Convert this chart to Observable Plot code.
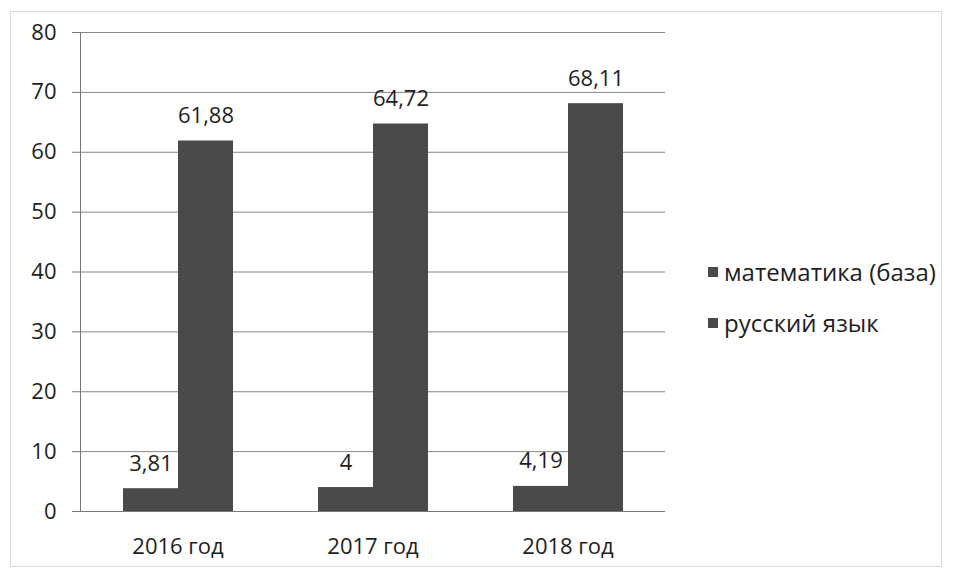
<!DOCTYPE html>
<html><head><meta charset="utf-8">
<script src="https://cdn.jsdelivr.net/npm/d3@7"></script>
<script src="https://cdn.jsdelivr.net/npm/@observablehq/plot@0.6"></script>
<style>
body{margin:0;background:#fff;}
#wrap{position:relative;width:953px;height:577px;font-family:"Open Sans",sans-serif;}
#chart{position:absolute;left:0;top:0;}
#border{position:absolute;left:10px;top:11px;width:930px;height:554px;border:1px solid #dcdcdc;}
#legend{position:absolute;left:708px;top:246px;font-size:24px;color:#1e1e1e;}
.item{display:flex;align-items:center;height:51px}
.sw{width:10px;height:10px;margin-right:6px}
</style></head>
<body><div id="wrap"><div id="border"></div><div id="chart"></div><div id="legend"></div></div>
<script>
const years = ["2016 год", "2017 год", "2018 год"];
const series = ["математика (база)", "русский язык"];
const math = [3.81, 4, 4.19];
const russian = [61.88, 64.72, 68.11];
const mathLabels = ["3,81", "4", "4,19"];
const russianLabels = ["61,88", "64,72", "68,11"];
const yTicks = [0, 10, 20, 30, 40, 50, 60, 70, 80];
const colors = ["#4a4a4a", "#4a4a4a"];

const data = years.flatMap((y, i) => [
  {year: y, series: series[0], value: math[i], label: mathLabels[i]},
  {year: y, series: series[1], value: russian[i], label: russianLabels[i]}
]);

const plot = Plot.plot({
  width: 690, height: 577,
  marginLeft: 79, marginRight: 24, marginTop: 32, marginBottom: 66,
  style: {fontFamily: "Open Sans", fontSize: "22px", color: "#1e1e1e", background: "transparent"},
  fx: {domain: years, padding: 0, label: null},
  x: {domain: series, paddingInner: 0, paddingOuter: 0.75, axis: null},
  y: {domain: [0, 80], axis: null},
  color: {domain: series, range: colors},
  marks: [
    Plot.ruleY(yTicks, {stroke: "#858585"}),
    Plot.barY(data, {fx: "year", x: "series", y: "value", fill: "series"}),
    Plot.text(data, {fx: "year", x: "series", y: "value", text: "label", dy: -25, fill: "#1e1e1e"}),
    Plot.ruleY([0], {stroke: "#777"}),
    Plot.frame({anchor: "left", facet: "super", stroke: "#777"}),
    Plot.axisY(yTicks, {tickSize: 8, tickPadding: 16, stroke: "#777", fill: "#1e1e1e", label: null}),
    Plot.axisFx({anchor: "bottom", tickSize: 0, tickPadding: 27, fill: "#1e1e1e", label: null})
  ]
});
document.getElementById("chart").appendChild(plot);

const legend = document.getElementById("legend");
series.forEach((s, i) => {
  const item = document.createElement("div");
  item.className = "item";
  const sw = document.createElement("span");
  sw.className = "sw";
  sw.style.background = colors[i];
  const t = document.createElement("span");
  t.textContent = s;
  item.appendChild(sw); item.appendChild(t);
  legend.appendChild(item);
});
</script>
</body></html>
